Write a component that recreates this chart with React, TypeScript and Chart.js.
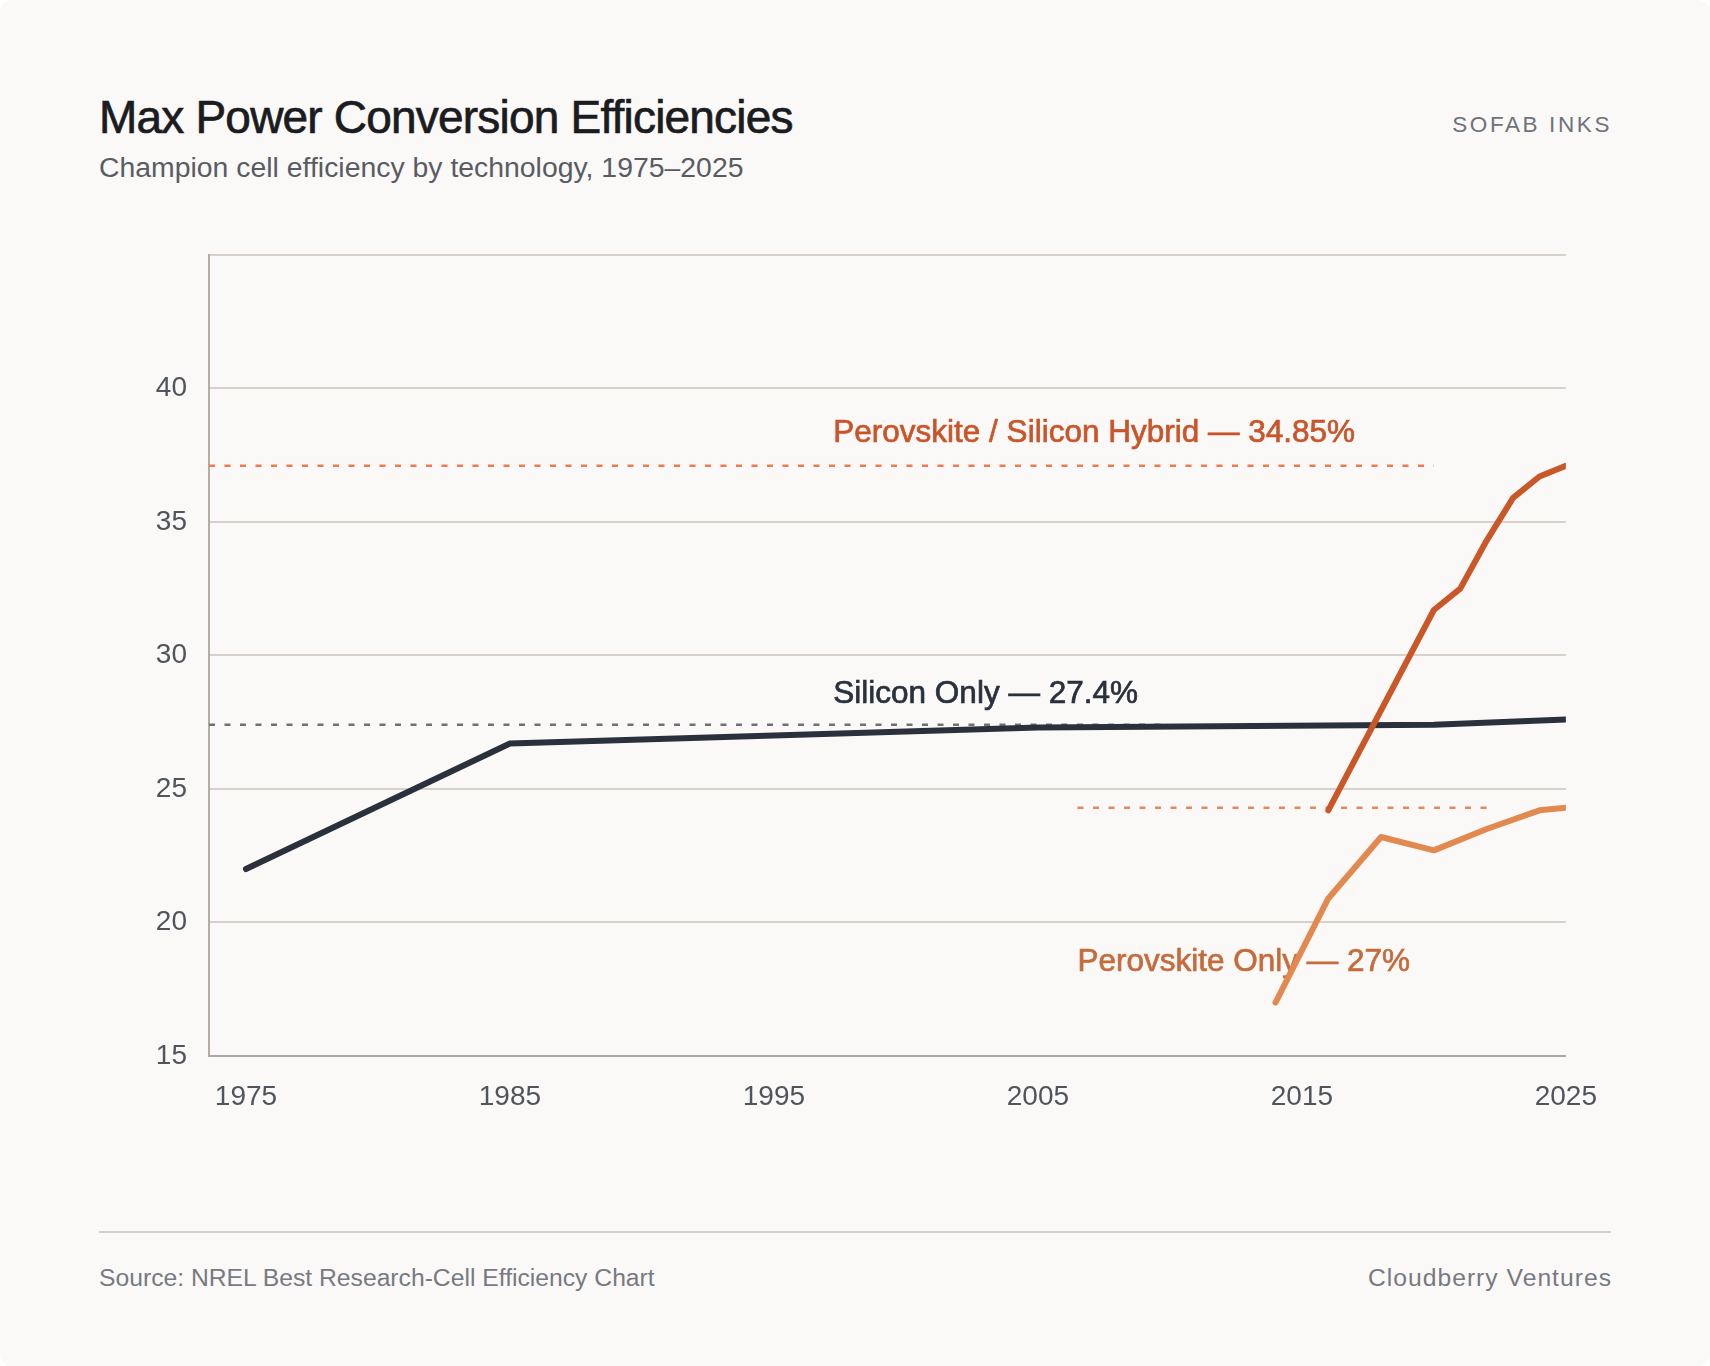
import React, { useEffect, useRef } from "react";
import { Chart, registerables } from "chart.js";

Chart.register(...registerables);

const FONT = "'Liberation Sans', Arial, Helvetica, sans-serif";

// series
const siliconYears = [1975, 1985, 2005, 2020, 2025];
const siliconValues = [22.0, 26.7, 27.3, 27.4, 27.6];

const hybridYears = [2016, 2020, 2021, 2022, 2023, 2024, 2025];
const hybridValues = [24.2, 31.7, 32.5, 34.3, 35.9, 36.7, 37.1];

const perovskiteYears = [2014, 2016, 2018, 2020, 2022, 2024, 2025];
const perovskiteValues = [17.0, 20.9, 23.2, 22.7, 23.5, 24.2, 24.3];

// dashed reference lines
const refFrom = [1973.6, 1973.6, 2006.5];
const refTo = [2020, 2010, 2022];
const refValues = [37.1, 27.4, 24.3];
const refColors = ["#EC7B4E", "#6E7179", "#E38A56"];

// series labels
const labelTexts = [
  "Perovskite / Silicon Hybrid — 34.85%",
  "Silicon Only — 27.4%",
  "Perovskite Only — 27%",
];
const labelYears = [1997.25, 1997.25, 2006.5];
const labelValues = [38.0, 28.2, 18.2];
const labelColors = ["#C9552A", "#2A313C", "#C46C3D"];

const xTicks = [1975, 1985, 1995, 2005, 2015, 2025];
const yTicks = [15, 20, 25, 30, 35, 40, 45];

const toPoints = (xs: number[], ys: number[]) =>
  xs.map((x, i) => ({ x, y: ys[i] }));

const labelPlugin = {
  id: "seriesLabels",
  beforeDatasetsDraw(chart: Chart) {
    const { ctx } = chart;
    const x = chart.scales.x;
    const y = chart.scales.y;
    ctx.save();
    ctx.font = `31.5px ${FONT}`;
    ctx.textAlign = "left";
    ctx.textBaseline = "alphabetic";
    labelTexts.forEach((t, i) => {
      const px = x.getPixelForValue(labelYears[i]);
      const py = y.getPixelForValue(labelValues[i]);
      ctx.fillStyle = labelColors[i];
      ctx.strokeStyle = labelColors[i];
      ctx.lineWidth = 0.7;
      ctx.fillText(t, px, py);
      ctx.strokeText(t, px, py);
    });
    ctx.restore();
  },
};

const EfficiencyChart: React.FC = () => {
  const canvasRef = useRef<HTMLCanvasElement>(null);
  const chartRef = useRef<Chart>();

  useEffect(() => {
    const canvas = canvasRef.current;
    if (!canvas) {
      return;
    }
    const ctx = canvas.getContext("2d");
    if (!ctx) {
      return;
    }

    const refSets = refValues.map((v, i) => ({
      label: `ref${i}`,
      data: [
        { x: refFrom[i], y: v },
        { x: refTo[i], y: v },
      ],
      borderColor: refColors[i],
      borderWidth: 2.5,
      borderDash: [6, 9.5],
      pointRadius: 0,
      order: 5,
    }));

    const lineStyle = {
      borderWidth: 6,
      pointRadius: 0,
      borderCapStyle: "round" as const,
      borderJoinStyle: "round" as const,
    };

    chartRef.current = new Chart(ctx, {
      type: "line",
      data: {
        datasets: [
          {
            label: "Perovskite / Silicon Hybrid",
            data: toPoints(hybridYears, hybridValues),
            borderColor: "#CA5727",
            order: 1,
            ...lineStyle,
          },
          {
            label: "Silicon Only",
            data: toPoints(siliconYears, siliconValues),
            borderColor: "#2A313C",
            order: 2,
            ...lineStyle,
          },
          {
            label: "Perovskite Only",
            data: toPoints(perovskiteYears, perovskiteValues),
            borderColor: "#E2894F",
            order: 3,
            ...lineStyle,
          },
          ...refSets,
        ],
      },
      options: {
        animation: false,
        responsive: true,
        maintainAspectRatio: false,
        layout: { padding: 0 },
        plugins: {
          legend: { display: false },
          tooltip: { enabled: false },
        },
        scales: {
          x: {
            type: "linear",
            min: 1973.6,
            max: 2025,
            afterBuildTicks: (s: any) => {
              s.ticks = xTicks.map((v) => ({ value: v }));
            },
            afterFit: (s: any) => {
              s.height = 54;
            },
            ticks: {
              autoSkip: false,
              maxRotation: 0,
              padding: 24,
              color: "#50545C",
              font: { family: FONT, size: 28 },
              callback: (v: any) => String(v),
            },
            grid: { display: false, drawTicks: false },
            border: { display: true, color: "#AEA79E", width: 2 },
          },
          y: {
            min: 15,
            max: 45,
            afterBuildTicks: (s: any) => {
              s.ticks = yTicks.map((v) => ({ value: v }));
            },
            afterFit: (s: any) => {
              s.width = 110;
            },
            ticks: {
              padding: 22,
              color: "#50545C",
              font: { family: FONT, size: 28 },
              callback: (v: any) => (v === 45 ? "" : String(v)),
            },
            grid: { color: "#D7D1C9", lineWidth: 2, drawTicks: false },
            border: { display: true, color: "#B4ADA4", width: 2 },
          },
        },
      },
      plugins: [labelPlugin],
    });

    return () => {
      if (chartRef.current) {
        chartRef.current.destroy();
      }
    };
  }, []);

  return <canvas ref={canvasRef} aria-label="chart" />;
};

const App: React.FC = () => {
  useEffect(() => {
    document.body.style.margin = "0";
    document.body.style.background = "#FFFFFF";
  }, []);

  const text = (extra: React.CSSProperties): React.CSSProperties => ({
    position: "absolute",
    fontFamily: FONT,
    lineHeight: 1,
    whiteSpace: "nowrap",
    ...extra,
  });

  return (
    <div
      style={{
        position: "relative",
        width: 1710,
        height: 1366,
        background: "#FAF9F7",
        borderRadius: 12,
        overflow: "hidden",
      }}
    >
      <div
        style={text({
          left: 99,
          top: 94,
          fontSize: 46,
          color: "#1B1C1F",
          letterSpacing: "-0.8px",
          WebkitTextStroke: "0.7px #1B1C1F",
        })}
      >
        Max Power Conversion Efficiencies
      </div>
      <div style={text({ left: 99, top: 153, fontSize: 28.4, color: "#595C63" })}>
        Champion cell efficiency by technology, 1975–2025
      </div>
      <div
        style={text({
          right: 99,
          top: 114,
          fontSize: 22.5,
          color: "#6F727A",
          letterSpacing: "2.6px",
          marginRight: -1,
        })}
      >
        SOFAB INKS
      </div>

      <div style={{ position: "absolute", left: 99, top: 216, width: 1522, height: 894 }}>
        <EfficiencyChart />
      </div>

      <div
        style={{
          position: "absolute",
          left: 99,
          top: 1231,
          width: 1512,
          height: 2,
          background: "#D6CFC7",
        }}
      />
      <div style={text({ left: 99, top: 1266, fontSize: 24.7, color: "#777A82" })}>
        Source: NREL Best Research-Cell Efficiency Chart
      </div>
      <div
        style={text({
          right: 99,
          top: 1266,
          fontSize: 24.7,
          color: "#777A82",
          letterSpacing: "1px",
          marginRight: -1,
        })}
      >
        Cloudberry Ventures
      </div>
    </div>
  );
};

export default App;
